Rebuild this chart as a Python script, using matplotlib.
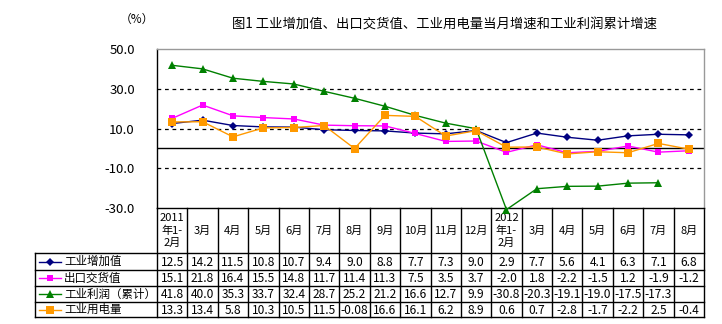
import numpy as np
import matplotlib
matplotlib.use('Agg')
import matplotlib.pyplot as plt

plt.rcParams['font.family'] = ['Noto Sans CJK SC', 'DejaVu Sans']

# months: 2011 Jan-Feb .. 2012 Aug
months = ['2011\n年1-\n2月', '3月', '4月', '5月', '6月', '7月', '8月', '9月', '10月',
          '11月', '12月', '2012\n年1-\n2月', '3月', '4月', '5月', '6月', '7月', '8月']

value_added = [12.5, 14.2, 11.5, 10.8, 10.7, 9.4, 9.0, 8.8, 7.7, 7.3, 9.0,
               2.9, 7.7, 5.6, 4.1, 6.3, 7.1, 6.8]
export_value = [15.1, 21.8, 16.4, 15.5, 14.8, 11.7, 11.4, 11.3, 7.5, 3.5, 3.7,
                -2.0, 1.8, -2.2, -1.5, 1.2, -1.9, -1.2]
profit_cum = [41.8, 40.0, 35.3, 33.7, 32.4, 28.7, 25.2, 21.2, 16.6, 12.7, 9.9,
              -30.8, -20.3, -19.1, -19.0, -17.5, -17.3, np.nan]
electricity = [13.3, 13.4, 5.8, 10.3, 10.5, 11.5, -0.08, 16.6, 16.1, 6.2, 8.9,
               0.6, 0.7, -2.8, -1.7, -2.2, 2.5, -0.4]

series = [
    ('工业增加值', value_added, '#000080', 'D', 3.8),
    ('出口交货值', export_value, '#ff00ff', 's', 4.4),
    ('工业利润（累计）', profit_cum, '#008000', '^', 5.2),
    ('工业用电量', electricity, '#ff9900', 's', 5.4),
]

yticks = [50, 30, 10, -10, -30]

W, H = 722, 324
fig = plt.figure(figsize=(W / 100, H / 100), dpi=100)

# plot area in pixel units
left, right, top, bottom = 157, 704, 49, 208

# overlay for the table and free text, pixel coordinates
bg = fig.add_axes([0, 0, 1, 1])
bg.set_xlim(0, W)
bg.set_ylim(H, 0)
bg.axis('off')

ax = fig.add_axes([left / W, 1 - bottom / H, (right - left) / W, (bottom - top) / H])
ax.set_xlim(0, len(months))
ax.set_ylim(-30, 50)
ax.patch.set_alpha(0)

x = np.arange(len(months)) + 0.5
for name, vals, color, marker, ms in series:
    ax.plot(x, vals, color=color, lw=1, marker=marker, markersize=ms,
            markeredgewidth=0, clip_on=False, zorder=3)

for y in [30, 10, -10]:
    ax.axhline(y, color='black', lw=0.9, ls=(0, (3, 3)), zorder=1)
ax.axhline(0, color='black', lw=1, zorder=1)

ax.set_yticks(yticks)
ax.set_yticklabels([f'{v:.1f}' for v in yticks], fontsize=9.5)
ax.tick_params(axis='y', length=0, pad=16)
ax.set_xticks([])
ax.spines['left'].set_color('black')
ax.spines['bottom'].set_color('black')
ax.spines['top'].set_color('#999999')
ax.spines['right'].set_color('#999999')
for s in ax.spines.values():
    s.set_linewidth(1)

bg.text(137, 19, '（%）', fontsize=8.5, ha='center', va='center')
bg.text(445, 25, '图1 工业增加值、出口交货值、工业用电量当月增速和工业利润累计增速',
        fontsize=9.6, ha='center', va='center')

# data table under the chart
col_w = (right - left) / len(months)
row_edges = [253, 270, 286, 302, 317]
tab_left = 35
kw = dict(color='black', lw=1)

for i in range(len(months) + 1):
    xe = left + i * col_w
    bg.plot([xe, xe], [bottom, row_edges[-1]], **kw)
for ye in row_edges:
    bg.plot([tab_left, right], [ye, ye], **kw)
bg.plot([tab_left, tab_left], [row_edges[0], row_edges[-1]], **kw)

for i, m in enumerate(months):
    bg.text(left + (i + 0.5) * col_w, (bottom + row_edges[0]) / 2, m,
            fontsize=8, ha='center', va='center', linespacing=1.25)

for r, (name, vals, color, marker, ms) in enumerate(series):
    yc = (row_edges[r] + row_edges[r + 1]) / 2
    bg.plot([39, 61], [yc, yc], color=color, lw=1)
    bg.plot([50], [yc], marker=marker, color=color, markersize=ms,
            markeredgewidth=0)
    bg.text(64, yc, name, fontsize=8.3, ha='left', va='center')
    for i, v in enumerate(vals):
        if np.isnan(v):
            continue
        txt = f'{v:.2f}' if v == -0.08 else f'{v:.1f}'
        bg.text(left + (i + 0.5) * col_w, yc + 0.5, txt, fontsize=8.6,
                ha='center', va='center')

fig.savefig('out.png', dpi=100)
